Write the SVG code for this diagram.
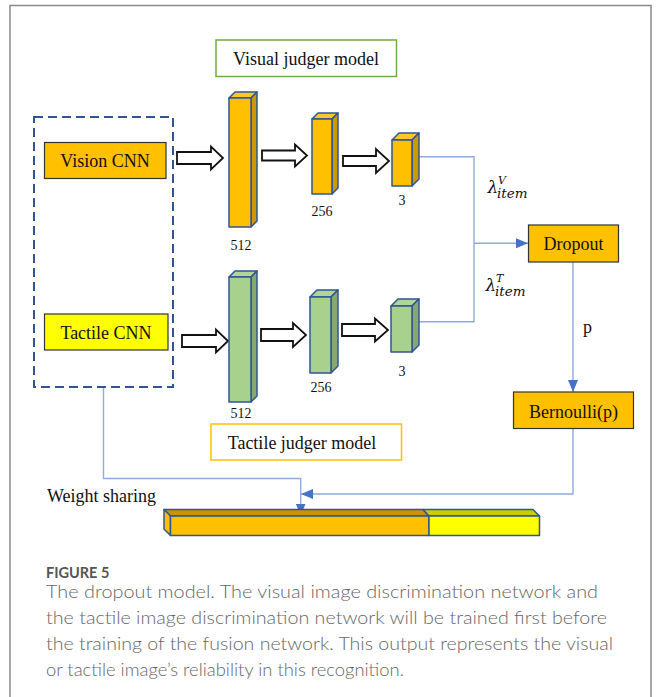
<svg xmlns="http://www.w3.org/2000/svg" width="656" height="697" viewBox="0 0 656 697">
  <defs>
    <style>
      .lbl { font-family: "Liberation Serif", "Times New Roman", serif; font-size: 18px; text-anchor: middle; fill: #111; }
      .txt { font-family: "Liberation Serif", "Times New Roman", serif; font-size: 18px; fill: #111; }
      .num { font-family: "Liberation Serif", "Times New Roman", serif; font-size: 14px; text-anchor: middle; fill: #111; }
      .math { font-family: "DejaVu Serif", "Liberation Serif", serif; font-style: italic; fill: #111; }
      .cap { font-family: Lato, "Open Sans", "Liberation Sans", sans-serif; fill: #666; font-size: 18.5px; font-weight: 300; }
      .capHead { font-family: Lato, "Open Sans", "Liberation Sans", sans-serif; fill: #555; font-size: 14.5px; font-weight: bold; }
      .cub { stroke: #2F5597; stroke-width: 1.5; stroke-linejoin: round; }
      .yFront { fill: #FFC000; }
      .yTop { fill: #FFC826; }
      .ySide { fill: #CC9A00; }
      .gFront { fill: #A9D18E; }
      .gTop { fill: #B0D596; }
      .gSide { fill: #88A873; }
      .blk { fill: #fff; stroke: #111; stroke-width: 1.8; stroke-linejoin: miter; }
      .conn { fill: none; stroke: #8FAADC; stroke-width: 1.4; }
      .box { stroke: #333; stroke-width: 1.2; }
    </style>
    <marker id="ah" markerWidth="12" markerHeight="10" refX="12" refY="5" orient="auto" markerUnits="userSpaceOnUse">
      <path d="M0,0 L12,5 L0,10 Z" fill="#4472C4"/>
    </marker>
  </defs>

  <rect width="656" height="697" fill="#fff"/>
  <!-- figure frame -->
  <path d="M10,720 V5.5 H651 V720" fill="none" stroke="#8a8a8a" stroke-width="1.5"/>

  <!-- connectors -->
  <g id="connectors">
    <path class="conn" d="M418,156.7 H474 V321.7 H418"/>
    <path class="conn" d="M474,243.3 H528" marker-end="url(#ah)"/>
    <path class="conn" d="M573,262 V392" marker-end="url(#ah)"/>
    <path class="conn" d="M573,428 V494 H301" marker-end="url(#ah)"/>
    <path class="conn" d="M103.5,387 V478.5 H300.7 V515.5" marker-end="url(#ah)"/>
  </g>

  <!-- shared encoder region -->
  <g id="encoders">
    <rect x="34" y="117" width="139" height="270" fill="none" stroke="#2F5597" stroke-width="2" stroke-dasharray="9,5"/>
  </g>

  <g id="vision-cnn">
    <rect class="box" x="44.5" y="142.5" width="121.5" height="36" fill="#FFC000"/>
    <text class="lbl" x="105" y="167">Vision CNN</text>
  </g>

  <g id="tactile-cnn">
    <rect class="box" x="44.5" y="314" width="123.5" height="36" fill="#FFFF00"/>
    <text class="lbl" x="106" y="338.5">Tactile CNN</text>
  </g>

  <!-- block arrows -->
  <g id="block-arrows">
    <polygon class="blk" points="177,152 211,152 211,146.5 223,158 211,169.5 211,164 177,164"/>
    <polygon class="blk" points="262,150.5 295,150.5 295,144.5 307,155.5 295,166.5 295,160.5 262,160.5"/>
    <polygon class="blk" points="343,156 376,156 376,149 389,161 376,173 376,166 343,166"/>
    <polygon class="blk" points="182,335 216,335 216,329.5 228,341 216,352.5 216,347 182,347"/>
    <polygon class="blk" points="261,329 293,329 293,323 306,335 293,347 293,341 261,341"/>
    <polygon class="blk" points="342,324 375,324 375,318.5 388,330 375,341.5 375,336 342,336"/>
  </g>

  <!-- visual judger layers -->
  <g id="visual-512">
    <polygon class="cub yTop" points="229,98 235,92 257,92 251,98"/>
    <polygon class="cub ySide" points="251,98 257,92 257,221 251,227"/>
    <rect class="cub yFront" x="229" y="98" width="22" height="129"/>
    <text class="num" x="241" y="250">512</text>
  </g>
  <g id="visual-256">
    <polygon class="cub yTop" points="312,119 318,113 338,113 332,119"/>
    <polygon class="cub ySide" points="332,119 338,113 338,188 332,194"/>
    <rect class="cub yFront" x="312" y="119" width="20" height="75"/>
    <text class="num" x="322" y="216">256</text>
  </g>
  <g id="visual-3">
    <polygon class="cub yTop" points="392,140 399,133 419,133 412,140"/>
    <polygon class="cub ySide" points="412,140 419,133 419,179 412,186"/>
    <rect class="cub yFront" x="392" y="140" width="20" height="46"/>
    <text class="num" x="402" y="205">3</text>
  </g>

  <!-- tactile judger layers -->
  <g id="tactile-512">
    <polygon class="cub gTop" points="229,277 235,271 257,271 251,277"/>
    <polygon class="cub gSide" points="251,277 257,271 257,396 251,402"/>
    <rect class="cub gFront" x="229" y="277" width="22" height="125"/>
    <text class="num" x="241" y="418">512</text>
  </g>
  <g id="tactile-256">
    <polygon class="cub gTop" points="310,297 317,290 338,290 331,297"/>
    <polygon class="cub gSide" points="331,297 338,290 338,366 331,373"/>
    <rect class="cub gFront" x="310" y="297" width="21" height="76"/>
    <text class="num" x="321" y="392">256</text>
  </g>
  <g id="tactile-3">
    <polygon class="cub gTop" points="391,306 398,299 419,299 412,306"/>
    <polygon class="cub gSide" points="412,306 419,299 419,345 412,352"/>
    <rect class="cub gFront" x="391" y="306" width="21" height="46"/>
    <text class="num" x="402" y="376">3</text>
  </g>

  <g id="visual-judger-label">
    <rect x="216" y="40" width="180.5" height="36.5" fill="#fff" stroke="#70AD47" stroke-width="1.5"/>
    <text class="lbl" x="306" y="65">Visual judger model</text>
  </g>

  <g id="tactile-judger-label">
    <rect x="211" y="424" width="190.5" height="36" fill="#fff" stroke="#FFC000" stroke-width="1.5"/>
    <text class="lbl" x="302" y="448.5">Tactile judger model</text>
  </g>

  <!-- weights on the two judger outputs -->
  <g id="lambda-v">
    <text class="math" font-size="17" x="487.5" y="193">λ<tspan font-size="11" x="498" y="183.5">V</tspan><tspan font-size="13.5" x="497" y="197.5">item</tspan></text>
  </g>
  <g id="lambda-t">
    <text class="math" font-size="17" x="485.5" y="290.5">λ<tspan font-size="11" x="496" y="281.5">T</tspan><tspan font-size="13.5" x="495" y="295.5">item</tspan></text>
  </g>

  <g id="dropout">
    <rect class="box" x="528.5" y="225" width="90" height="37" fill="#FFC000"/>
    <text class="lbl" x="573.5" y="250">Dropout</text>
  </g>

  <text class="txt" x="583" y="333">p</text>

  <g id="bernoulli">
    <rect class="box" x="513.5" y="392" width="120" height="36.5" fill="#FFC000"/>
    <text class="lbl" x="573.5" y="417.5">Bernoulli(p)</text>
  </g>

  <g id="weight-sharing">
    <text class="txt" font-size="18.5" x="47" y="501.5">Weight sharing</text>
  </g>

  <!-- fused weight bar -->
  <g id="fusion-bar">
    <polygon class="cub" fill="#C99400" points="164,509.5 423,509.5 429,516 170.5,516"/>
    <polygon class="cub" fill="#CCCC00" points="423,509.5 533,509.5 539.5,516 429,516"/>
    <polygon class="cub" fill="#FFC000" points="164,509.5 170.5,516 170.5,535.5 164,529"/>
    <rect class="cub" x="170.5" y="516" width="258.5" height="19.5" fill="#FFC000"/>
    <rect class="cub" x="429" y="516" width="110.5" height="19.5" fill="#FFFF00"/>
  </g>

  <!-- caption -->
  <g id="caption">
    <text class="capHead" x="46" y="578">FIGURE 5</text>
    <text class="cap" x="46" y="598" textLength="552" lengthAdjust="spacingAndGlyphs">The dropout model. The visual image discrimination network and</text>
    <text class="cap" x="46" y="624" textLength="561" lengthAdjust="spacingAndGlyphs">the tactile image discrimination network will be trained first before</text>
    <text class="cap" x="46" y="650" textLength="567" lengthAdjust="spacingAndGlyphs">the training of the fusion network. This output represents the visual</text>
    <text class="cap" x="46" y="676" textLength="358" lengthAdjust="spacingAndGlyphs">or tactile image’s reliability in this recognition.</text>
  </g>
</svg>
